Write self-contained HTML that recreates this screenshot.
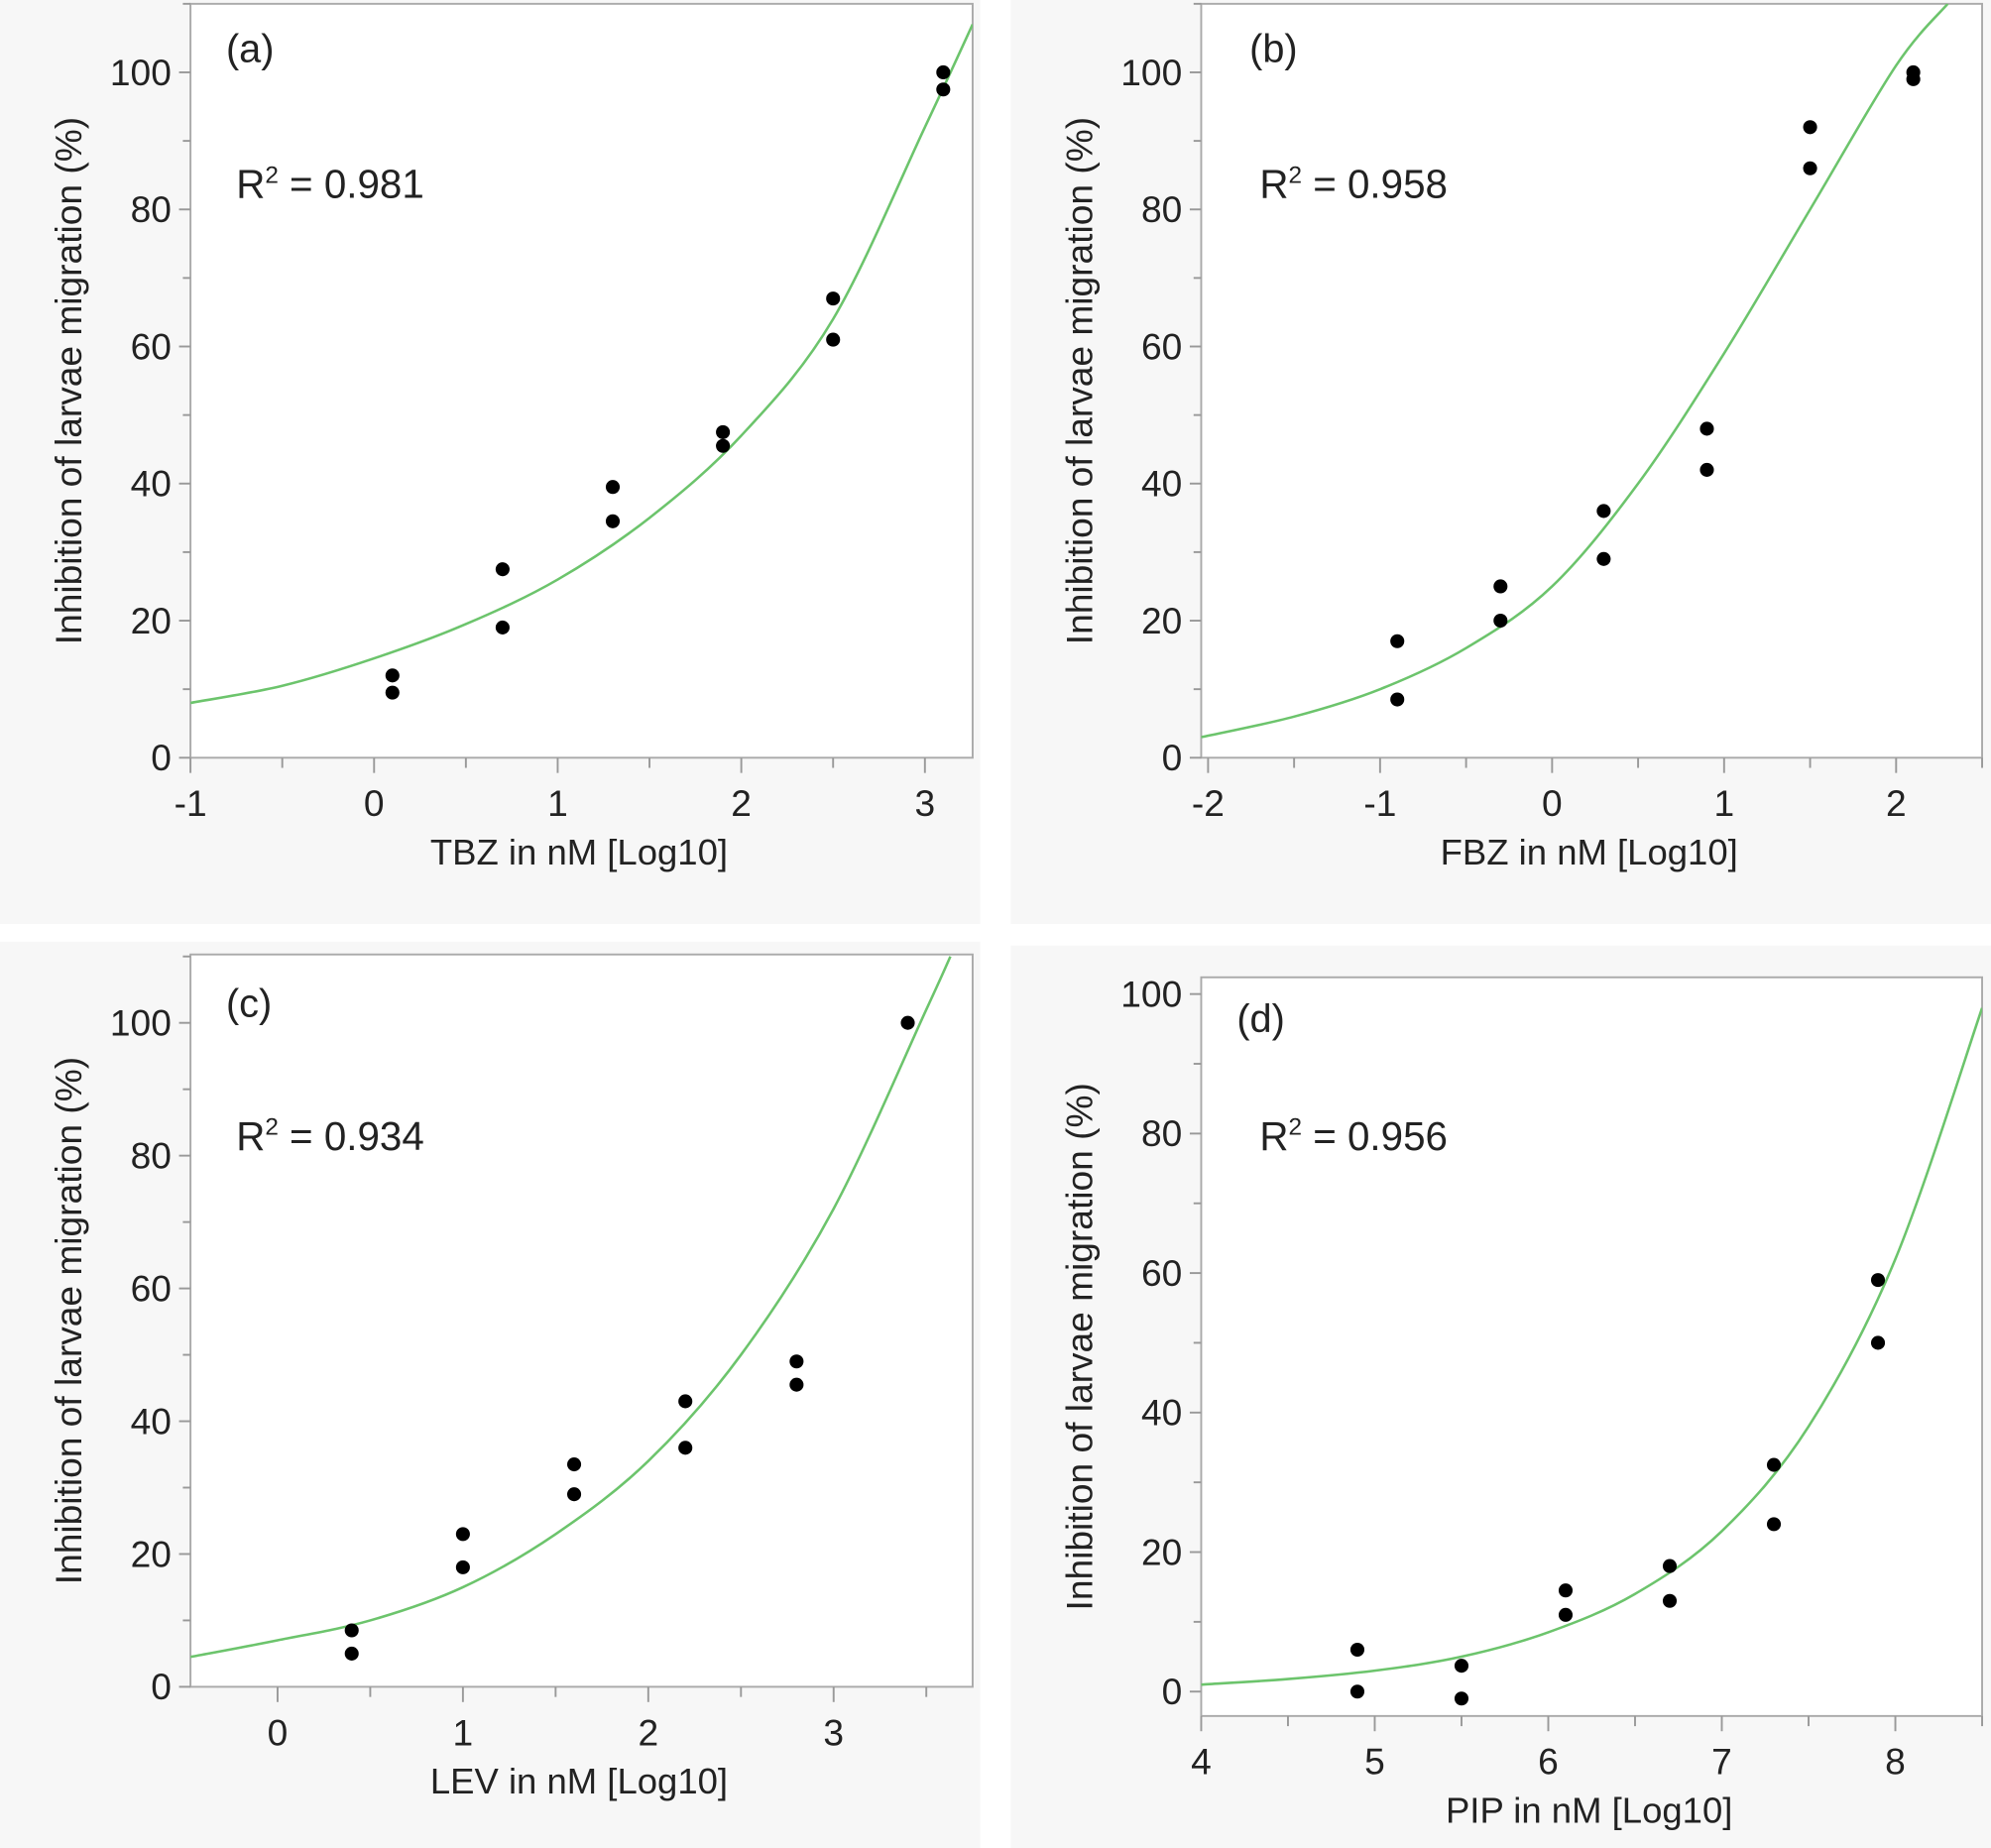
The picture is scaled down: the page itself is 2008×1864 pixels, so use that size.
<!DOCTYPE html>
<html><head><meta charset="utf-8"><style>
html,body{margin:0;padding:0;background:#fff;}
svg{display:block;}
text{font-family:"Liberation Sans",sans-serif;fill:#222;}
</style></head><body>
<svg id="fig" width="2008" height="1864" viewBox="0 0 1568 1456" preserveAspectRatio="none" xmlns="http://www.w3.org/2000/svg"></svg>
<script>
// ---- data ----
const aX = [0.1,0.1,0.7,0.7,1.3,1.3,1.9,1.9,2.5,2.5,3.1,3.1];
const aY = [12,9.5,27.5,19,39.5,34.5,47.5,45.5,67,61,100,97.5];
const aFitX = [-1,-0.5,0,0.5,1,1.5,2,2.5,3,3.26];
const aFitY = [8,10.5,14.5,19.5,26,35,47,64,92,107];
const bX = [-0.9,-0.9,-0.3,-0.3,0.3,0.3,0.9,0.9,1.5,1.5,2.1,2.1];
const bY = [17,8.5,25,20,36,29,48,42,92,86,100,99];
const bFitX = [-2.04,-1.5,-1,-0.5,0,0.5,1,1.5,2,2.3];
const bFitY = [3,6,10,16,25,40,59,80,101,110];
const cX = [0.4,0.4,1.0,1.0,1.6,1.6,2.2,2.2,2.8,2.8,3.4];
const cY = [8.5,5,23,18,33.5,29,43,36,49,45.5,100];
const cFitX = [-0.47,0,0.5,1,1.5,2,2.5,3,3.5,3.63];
const cFitY = [4.5,7,10,15,23,34,50,72,102,110];
const dX = [4.9,4.9,5.5,5.5,6.1,6.1,6.7,6.7,7.3,7.3,7.9,7.9];
const dY = [6,0,3.7,-1,14.5,11,18,13,32.5,24,59,50];
const dFitX = [4,4.5,5,5.5,6,6.5,7,7.5,8,8.5];
const dFitY = [1,1.8,3,5,8.5,14,23,38,62,98];
const aXTicks = [-1,0,1,2,3];
const bXTicks = [-2,-1,0,1,2];
const cXTicks = [0,1,2,3];
const dXTicks = [4,5,6,7,8];
const yTicks = [0,20,40,60,80,100];
const labels = ["(a)","(b)","(c)","(d)"];
const r2 = ["0.981","0.958","0.934","0.956"];
const xTitles = ["TBZ in nM [Log10]","FBZ in nM [Log10]","LEV in nM [Log10]","PIP in nM [Log10]"];

const NS="http://www.w3.org/2000/svg";
const svg=document.getElementById('fig');
function mk(tag,attrs,parent){const e=document.createElementNS(NS,tag);for(const k in attrs)e.setAttribute(k,attrs[k]);(parent||svg).appendChild(e);return e;}

const panels=[
 {bg:[0,0,772,728],box:[150,3,766,597],xd:[-1.0,3.26],yd:[0,110],xs:aX,ys:aY,fx:aFitX,fy:aFitY,xt:aXTicks,lab:[178,49],r2:[186,156],tag:"a"},
 {bg:[796,0,772,728],box:[946,3,1561,597],xd:[-2.04,2.5],yd:[0,110],xs:bX,ys:bY,fx:bFitX,fy:bFitY,xt:bXTicks,lab:[984,49],r2:[992,156],tag:"b"},
 {bg:[0,742,772,714],box:[150,752,766,1329],xd:[-0.47,3.75],yd:[0,110.3],xs:cX,ys:cY,fx:cFitX,fy:cFitY,xt:cXTicks,lab:[178,801],r2:[186,906],tag:"c"},
 {bg:[796,745,772,711],box:[946,770,1561,1352],xd:[4,8.5],yd:[-3.5,102.4],xs:dX,ys:dY,fx:dFitX,fy:dFitY,xt:dXTicks,lab:[974,813],r2:[992,906],tag:"d"}
];

panels.forEach((p,i)=>{
 const g=mk('g',{});
 
 
 const [L,T,R,B]=p.box;
 const sx=v=>L+(v-p.xd[0])/(p.xd[1]-p.xd[0])*(R-L);
 const sy=v=>B-(v-p.yd[0])/(p.yd[1]-p.yd[0])*(B-T);
 const bg=mk('rect',{x:p.bg[0],y:p.bg[1],width:p.bg[2],height:p.bg[3],fill:'#f7f7f7'},g);
 
 
 const pa=mk('rect',{x:L,y:T,width:R-L,height:B-T,fill:'#fff',stroke:'#aaa','stroke-width':1.5},g);
 
 
 for(let v=Math.ceil(p.yd[0]/10)*10; v<=p.yd[1]; v+=10){
   const major=v%20===0;
   mk('line',{x1:L-(major?9:6),x2:L,y1:sy(v),y2:sy(v),stroke:'#999','stroke-width':1.5},g);
 }
 yTicks.forEach(v=>{
   const t=mk('text',{x:L-15,y:sy(v)+10,'text-anchor':'end','font-size':29},g);
   t.textContent=v;
   
   
 });
 for(let v=Math.ceil(p.xd[0]*2)/2; v<=p.xd[1]+1e-9; v+=0.5){
   const major=Math.abs(v-Math.round(v))<1e-9;
   mk('line',{x1:sx(v),x2:sx(v),y1:B,y2:B+(major?12:8),stroke:'#999','stroke-width':1.5},g);
 }
 p.xt.forEach(v=>{
   const t=mk('text',{x:sx(v),y:B+46,'text-anchor':'middle','font-size':29},g);
   t.textContent=v;
   
   
 });
 const xt=mk('text',{x:(L+R)/2-2,y:B+84,'text-anchor':'middle','font-size':28.5},g);
 xt.textContent=xTitles[i];
 
 
 const yc=(T+B)/2;
 const yt=mk('text',{x:0,y:0,'text-anchor':'middle','font-size':29,transform:`translate(${L-86},${yc}) rotate(-90)`},g);
 yt.textContent="Inhibition of larvae migration (%)";
 
 
 const pts=p.fx.map((x,k)=>[sx(x),sy(p.fy[k])]);
 let d=`M${pts[0][0]},${pts[0][1]}`;
 for(let k=0;k<pts.length-1;k++){
   const p0=pts[Math.max(0,k-1)],p1=pts[k],p2=pts[k+1],p3=pts[Math.min(pts.length-1,k+2)];
   d+=` C${p1[0]+(p2[0]-p0[0])/6},${p1[1]+(p2[1]-p0[1])/6} ${p2[0]-(p3[0]-p1[0])/6},${p2[1]-(p3[1]-p1[1])/6} ${p2[0]},${p2[1]}`;
 }
 const cp=mk('clipPath',{id:'clip'+i},g);
 mk('rect',{x:L,y:T,width:R-L,height:B-T},cp);
 const c=mk('path',{d:d,fill:'none',stroke:'#6cc46c','stroke-width':2,'clip-path':`url(#clip${i})`},g);
 
 
 p.xs.forEach((x,k)=>{
   const dot=mk('circle',{cx:sx(x),cy:sy(p.ys[k]),r:5.5,fill:'#000'},g);
   
   
 });
 const lb=mk('text',{x:p.lab[0],y:p.lab[1],'font-size':31},g);
 lb.textContent=labels[i];
 
 
 const rt=mk('text',{x:p.r2[0],y:p.r2[1],'font-size':31.5},g);
 rt.innerHTML='R<tspan dy="-12" font-size="19">2</tspan><tspan dy="12"> = '+r2[i]+'</tspan>';
 
 
});
</script>
</body></html>
